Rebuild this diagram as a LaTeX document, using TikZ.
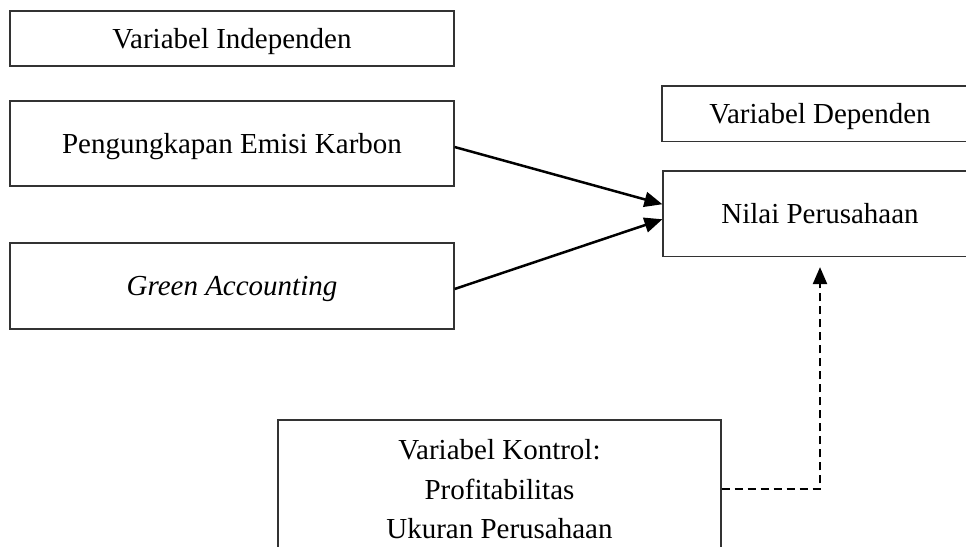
\documentclass[tikz,border=0pt]{standalone}
\usepackage{fontspec}
\setmainfont{Liberation Serif}
\usetikzlibrary{arrows.meta,calc}
\begin{document}
\begin{tikzpicture}[x=1pt,y=-1pt,
  font=\fontsize{29}{39.5}\selectfont,
  box/.style={draw=black!80, line width=1.2pt, inner sep=0pt, align=center},
  onebox/.style={box, text height=19.2pt, text depth=0pt},
  solidarrow/.style={line width=2.5pt, -{Triangle[length=18pt,width=15pt]}},
  dasharrow/.style={line width=2.3pt, dash pattern=on 8pt off 5pt, -{Triangle[length=17pt,width=14pt]}}]
\useasboundingbox (0,0) rectangle (966,546);
\clip (0,0) rectangle (966,546);
\node[onebox, minimum width=444pt, minimum height=55pt] (indep) at (232,38.5) {Variabel Independen};
\node[onebox, minimum width=444pt, minimum height=85pt] (emisi) at (232,143.5) {Pengungkapan Emisi Karbon};
\node[onebox, minimum width=444pt, minimum height=86pt] (green) at (232,286) {\itshape Green Accounting};
\node[onebox, minimum width=316pt, minimum height=55.5pt] (dep) at (820,113.75) {Variabel Dependen};
\node[onebox, minimum width=314pt, minimum height=85.5pt] (nilai) at (820,213.75) {Nilai Perusahaan};
\node[box, minimum width=443pt, minimum height=138pt] (kontrol) at (499.5,489) {\rule{0pt}{21pt}Variabel Kontrol:\\Profitabilitas\\Ukuran Perusahaan};
\draw[solidarrow] ([yshift=-3.5pt]emisi.east) -- ([yshift=9.5pt]nilai.west);
\draw[solidarrow] ([yshift=-3pt]green.east) -- ([yshift=-5.5pt]nilai.west);
\draw[dasharrow, shorten >=10pt] (kontrol.east) -| (nilai.south);
\end{tikzpicture}
\end{document}
